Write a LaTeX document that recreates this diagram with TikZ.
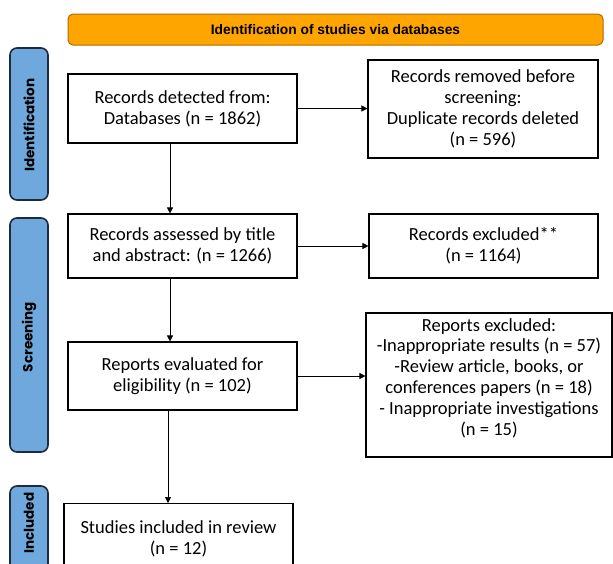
\documentclass[tikz,border=0pt]{standalone}
\usepackage{fontspec}
\setmainfont{Carlito}
\newfontfamily\titlefont{Liberation Sans}
\newfontfamily\sidefont{Poppins}
\usetikzlibrary{arrows.meta}
\definecolor{orangefill}{HTML}{FFA500}
\definecolor{orangeedge}{HTML}{B36B00}
\definecolor{sidefill}{HTML}{6FA8DC}
\definecolor{sideedge}{HTML}{1C2B3F}
\begin{document}
\begin{tikzpicture}[x=1pt,y=-1pt,
  box/.style={draw=black,line width=1.1pt,fill=white,align=center,inner sep=0pt,
    font=\fontsize{18.5}{20.8}\selectfont},
  sidebox/.style={draw=sideedge,line width=1.6pt,fill=sidefill,rounded corners=7pt},
  sidelabel/.style={rotate=90,font=\sidefont\bfseries\fontsize{13.5}{15}\selectfont},
  conn/.style={-{Triangle[length=6pt,width=6pt]},line width=0.7pt}]
\useasboundingbox (0,0) rectangle (613,563);
% header
\node[draw=orangeedge,line width=1pt,fill=orangefill,rounded corners=5pt,
  minimum width=535pt,minimum height=31pt,inner sep=0pt,
  font=\titlefont\bfseries\fontsize{13.8}{15}\selectfont] (hdr) at (335.5,29.5)
  {Identification of studies via databases};
% side bars
\draw[sidebox] (10,48) rectangle (48,200);
\node[sidelabel] (sid) at (29,125) {Identification};
\draw[sidebox] (10,218) rectangle (48,452);
\node[sidelabel] (sscr) at (29,337) {Screening};
\draw[sidebox] (10,486) rectangle (48,580);
\node[sidelabel] (sinc) at (29,523) {Included};
% boxes
\node[box,minimum width=229pt,minimum height=69pt] (b1) at (182.5,108.5)
  {Records detected from:\\Databases (n = 1862)};
\node[box,minimum width=230pt,minimum height=98pt] (b2) at (483,109)
  {Records removed before\\screening:\\Duplicate records deleted\\(n = 596)};
\node[box,minimum width=229pt,minimum height=64pt] (b3) at (182.5,246)
  {Records assessed by title\\and abstract: (n = 1266)};
\node[box,minimum width=229pt,minimum height=64pt] (b4) at (483.5,246)
  {Records excluded**\\(n = 1164)};
\node[box,minimum width=229pt,minimum height=68pt] (b5) at (182.5,376)
  {Reports evaluated for\\eligibility (n = 102)};
\node[box,minimum width=246pt,minimum height=144pt] (b6) at (489,385) {};
\node[align=center,inner sep=0pt,font=\fontsize{18.5}{20.8}\selectfont,anchor=north] (b6t) at (489,318)
  {Reports excluded:\\-Inappropriate results (n = 57)\\-Review article, books, or\\conferences papers (n = 18)\\- Inappropriate investigations\\(n = 15)};
\node[box,minimum width=229pt,minimum height=70pt,anchor=north] (b7) at (178.5,503)
  {Studies included in review\\(n = 12)};
% connectors
\draw[conn] (b1.east) -- (b2.west |- b1.east);
\draw[conn] (b1.south -| 170,0) -- (b3.north -| 170,0);
\draw[conn] (b3.east) -- (b4.west |- b3.east);
\draw[conn] (b3.south -| 170,0) -- (b5.north -| 170,0);
\draw[conn] (b5.east) -- (b6.west |- b5.east);
\draw[conn] (b5.south -| 168,0) -- (b7.north -| 168,0);
\end{tikzpicture}
\end{document}
